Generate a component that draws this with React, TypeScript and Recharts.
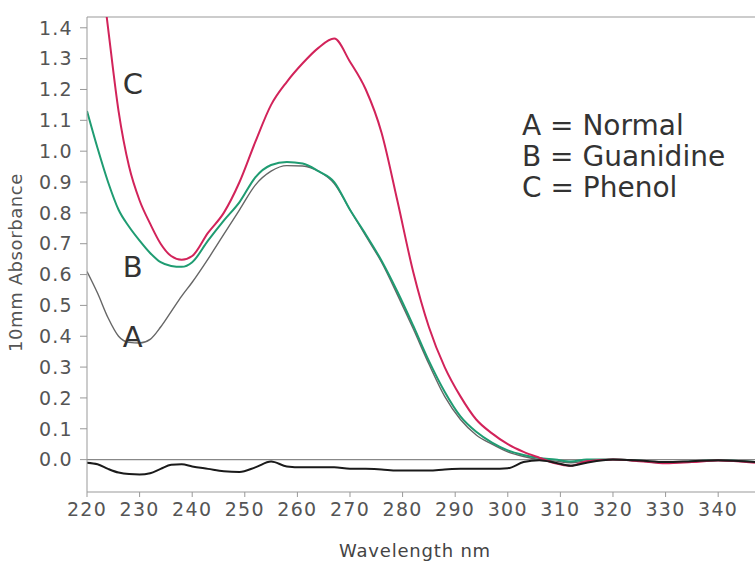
import { LineChart, Line, XAxis, YAxis, ReferenceLine, ReferenceDot, Legend } from 'recharts'

// wavelength grid (nm) shared by all traces
const wavelengths = [
  220, 222, 224, 226, 228, 230, 232, 234, 236, 238, 240, 243, 246, 249, 252, 255, 258, 261, 264, 267,
  270, 273, 276, 279, 282, 285, 288, 291, 294, 297, 300, 303, 306, 309, 312, 315, 320, 325, 330, 335,
  340, 347,
]

// A = Normal
const normal = [
  0.61, 0.54, 0.46, 0.4, 0.38, 0.378, 0.39, 0.43, 0.48, 0.53, 0.575, 0.65, 0.73, 0.81, 0.89, 0.935,
  0.953, 0.952, 0.935, 0.895, 0.81, 0.725, 0.64, 0.535, 0.425, 0.31, 0.205, 0.13, 0.08, 0.05, 0.025,
  0.01, 0.0, -0.005, -0.01, -0.004, 0.0, -0.004, -0.01, -0.006, -0.002, -0.008,
]

// B = Guanidine
const guanidine = [
  1.13, 1.01, 0.9, 0.81, 0.755, 0.71, 0.67, 0.64, 0.628, 0.625, 0.64, 0.71, 0.775, 0.835, 0.915, 0.955,
  0.965, 0.96, 0.935, 0.9, 0.81, 0.73, 0.645, 0.545, 0.435, 0.32, 0.22, 0.14, 0.09, 0.055, 0.03, 0.015,
  0.005, 0.0, -0.006, 0.0, 0.0, -0.004, -0.01, -0.006, -0.002, -0.008,
]

// C = Phenol
const phenol = [
  1.95, 1.68, 1.4, 1.13, 0.95, 0.84, 0.765, 0.7, 0.66, 0.648, 0.66, 0.735, 0.8, 0.9, 1.03, 1.15, 1.225,
  1.285, 1.335, 1.365, 1.29, 1.2, 1.06, 0.84, 0.61, 0.43, 0.3, 0.205, 0.13, 0.085, 0.05, 0.025, 0.006,
  -0.012, -0.02, -0.005, 0.0, -0.005, -0.012, -0.008, -0.003, -0.01,
]

// baseline trace
const baseline = [
  -0.01, -0.015, -0.03, -0.042, -0.047, -0.048, -0.044, -0.03, -0.017, -0.015, -0.022, -0.03, -0.038,
  -0.04, -0.025, -0.006, -0.022, -0.025, -0.025, -0.025, -0.03, -0.03, -0.032, -0.035, -0.035, -0.035,
  -0.032, -0.03, -0.03, -0.03, -0.028, -0.008, -0.002, -0.01, -0.02, -0.01, 0.0, -0.003, -0.008, -0.005,
  -0.002, -0.008,
]

const xTicks = [220, 230, 240, 250, 260, 270, 280, 290, 300, 310, 320, 330, 340]
const yTicks = [0.0, 0.1, 0.2, 0.3, 0.4, 0.5, 0.6, 0.7, 0.8, 0.9, 1.0, 1.1, 1.2, 1.3, 1.4]

const legendItems = [
  { letter: 'A', name: 'Normal' },
  { letter: 'B', name: 'Guanidine' },
  { letter: 'C', name: 'Phenol' },
]

const data = wavelengths.map((w, i) => ({
  w,
  a: normal[i],
  b: guanidine[i],
  c: phenol[i],
  d: baseline[i],
}))

const font = '"DejaVu Sans", sans-serif'
const Y_MAX = 1.435

const tickStyle = { fontSize: 19, fill: '#555', fontFamily: font, letterSpacing: 1.3 }

function LegendBox() {
  return (
    <div style={{ fontFamily: font, fontSize: 28, lineHeight: '31px', color: '#333' }}>
      {legendItems.map((item) => (
        <div key={item.letter}>
          {item.letter} = {item.name}
        </div>
      ))}
    </div>
  )
}

export default function App() {
  return (
    <div style={{ position: 'absolute', left: 0, top: 0, background: '#fff' }}>
      <LineChart width={755} height={561} data={data} margin={{ top: 17, right: 0, bottom: 0, left: 0 }}>
        <XAxis
          dataKey="w"
          type="number"
          domain={[220, 347]}
          ticks={xTicks}
          allowDataOverflow
          height={69}
          tickSize={5}
          tickMargin={6}
          stroke="#999"
          tick={tickStyle}
          label={{
            value: 'Wavelength nm',
            position: 'insideBottom',
            offset: 4,
            dx: -6,
            style: { fontSize: 18, fill: '#444', fontFamily: font, letterSpacing: 0.8 },
          }}
        />
        <YAxis
          type="number"
          domain={[-0.105, Y_MAX]}
          ticks={yTicks}
          allowDataOverflow
          width={87}
          tickSize={7}
          tickMargin={7}
          stroke="#999"
          tick={tickStyle}
          tickFormatter={(v: number) => v.toFixed(1)}
          label={{
            value: '10mm Absorbance',
            angle: -90,
            position: 'insideLeft',
            offset: 16,
            dy: 8,
            style: { textAnchor: 'middle', fontSize: 18, fill: '#555', fontFamily: font, letterSpacing: 0.6 },
          }}
        />
        <ReferenceLine y={0} stroke="#888" strokeWidth={1.2} />
        <ReferenceLine y={Y_MAX} stroke="#bbb" strokeWidth={1.5} />
        <Line type="monotone" dataKey="a" stroke="#666" strokeWidth={1.4} dot={false} isAnimationActive={false} />
        <Line type="monotone" dataKey="b" stroke="#1f9c72" strokeWidth={2} dot={false} isAnimationActive={false} />
        <Line type="monotone" dataKey="c" stroke="#d2235a" strokeWidth={2} dot={false} isAnimationActive={false} />
        <Line type="monotone" dataKey="d" stroke="#1a1a1a" strokeWidth={2} dot={false} isAnimationActive={false} />
        <ReferenceDot x={228.7} y={1.22} r={0} label={{ value: 'C', position: 'center', fontSize: 29, fill: '#333', fontFamily: font }} />
        <ReferenceDot x={228.7} y={0.626} r={0} label={{ value: 'B', position: 'center', fontSize: 29, fill: '#333', fontFamily: font }} />
        <ReferenceDot x={228.7} y={0.4} r={0} label={{ value: 'A', position: 'center', fontSize: 29, fill: '#333', fontFamily: font }} />
        <Legend
          layout="vertical"
          align="center"
          verticalAlign="middle"
          content={<LegendBox />}
          wrapperStyle={{ top: 110, left: 522, width: 'auto' }}
        />
      </LineChart>
    </div>
  )
}
